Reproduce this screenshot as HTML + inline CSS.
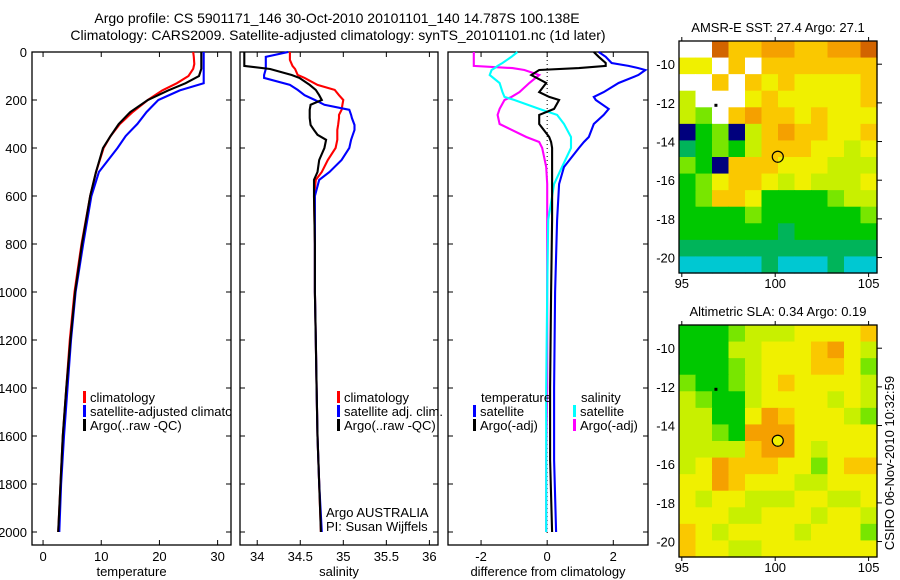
<!DOCTYPE html>
<html><head><meta charset="utf-8"><style>
body{margin:0;background:#fff;}
svg{display:block;font-family:"Liberation Sans",sans-serif;}
</style></head><body>
<svg id="fig" width="900" height="580" viewBox="0 0 900 580">
<defs><clipPath id="clip1"><rect x="32" y="52" width="199" height="493"/></clipPath></defs>
<text x="337" y="23" font-size="14" text-anchor="middle">Argo profile: CS 5901171_146 30-Oct-2010 20101101_140 14.787S 100.138E</text>
<text x="338" y="40" font-size="14" text-anchor="middle">Climatology: CARS2009. Satellite-adjusted climatology: synTS_20101101.nc (1d later)</text>
<g id="g1"></g>
<g id="g2"></g>
<g id="g3"></g>
<g id="m1"></g>
<g id="m2"></g>
<text transform="translate(894,463) rotate(-90)" font-size="13" text-anchor="middle">CSIRO 06-Nov-2010 10:32:59</text>
</svg>
<script>
// ---- data ----
const tDepth=[0,20,50,70,100,130,160,200,250,300,350,400,500,600,800,1000,1200,1400,1600,1800,2000];
const tClim=[25.8,25.9,26.0,25.8,25.0,23.0,20.5,18.0,15.4,13.2,11.6,10.4,9.1,8.1,6.6,5.4,4.6,4.0,3.4,3.0,2.6];
const tArgo=[27.2,27.2,27.2,27.2,26.8,24.5,21.5,18.0,15.0,13.0,11.6,10.3,9.1,8.1,6.7,5.5,4.7,4.0,3.4,3.0,2.6];
const tSat=[27.6,27.6,27.6,27.6,27.6,27.6,23.5,19.8,17.8,16.2,14.2,12.8,9.6,8.3,6.9,5.6,4.8,4.2,3.6,3.1,2.8];
const sDepth=[0,20,33,58,71,96,108,137,158,180,200,220,241,262,275,304,325,345,366,400,450,500,533,600,800,1000,1200,1400,1600,1800,2000];
const sClim=[34.38,34.38,34.38,34.41,34.44,34.47,34.55,34.70,34.90,34.95,35.0,34.99,34.98,34.95,34.95,34.94,34.93,34.93,34.93,34.91,34.82,34.75,34.68,34.66,34.67,34.67,34.68,34.69,34.70,34.72,34.74];
const sArgo=[33.85,33.85,33.85,33.85,34.15,34.40,34.49,34.61,34.68,34.72,34.75,34.62,34.61,34.61,34.61,34.62,34.66,34.70,34.80,34.78,34.72,34.70,34.66,34.66,34.67,34.67,34.68,34.69,34.70,34.72,34.74];
const sSat=[34.36,34.10,34.10,34.10,34.10,34.08,34.08,34.38,34.47,34.55,34.67,34.78,35.07,35.09,35.10,35.13,35.13,35.11,35.09,35.07,34.98,34.84,34.72,34.67,34.67,34.67,34.68,34.69,34.70,34.72,34.75];
const dDepth=[0,20,46,58,67,75,96,129,167,187,200,237,262,300,354,375,400,479,550,700,1000,1400,1700,2000];
const dTempSat=[1.56,1.77,1.95,2.46,2.76,2.97,2.76,2.16,1.71,1.41,1.47,1.86,1.71,1.41,1.26,1.11,0.96,0.51,0.36,0.30,0.24,0.21,0.21,0.27];
const dTempArgo=[1.41,1.56,1.77,1.77,0.96,-0.24,-0.48,-0.03,-0.24,0.06,0.36,0.21,-0.24,-0.24,0.06,0.12,0.15,0.15,0.15,0.15,0.12,0.09,0.09,0.15];
const dSalSat=[-0.9,-1.08,-1.35,-1.5,-1.59,-1.68,-1.74,-1.44,-1.35,-1.29,-0.99,-0.24,0.30,0.51,0.72,0.72,0.72,0.45,0.21,0.03,0.0,-0.03,-0.03,-0.03];
const dSalArgo=[-2.22,-2.22,-2.22,-2.22,-1.05,-0.69,-0.24,-0.54,-0.84,-1.08,-1.29,-1.44,-1.50,-1.44,-0.63,-0.24,-0.15,-0.03,0,0,0,0,-0.03,-0.03];
const depthTicks=[0,200,400,600,800,1000,1200,1400,1600,1800,2000];
const tTicks=[0,10,20,30];
const sTicks=[34,34.5,35,35.5,36];
const dTicks=[-2,0,2];
const latTicks=[-10,-12,-14,-16,-18,-20];
const lonTicks=[95,100,105];
const sstGrid=[
"ww9778877889",
"66w7w7777777",
"ww7w76766667",
"5www67666667",
"54w787767666",
"n34n57877667",
"234357776656",
"43n777666555",
"346776565556",
"347763333455",
"333343333334",
"333333233333",
"222222222222",
"111112111211"];
const slaGrid=[
"333455566667",
"333556667865",
"333456667764",
"433456766665",
"543356666565",
"553368766654",
"554388866666",
"555578865666",
"568777664677",
"668766655666",
"656655566556",
"666556665665",
"765666656664",
"766556666666"];
const floatLon=100.138, floatLat=-14.787;

// ---- helpers ----
const NS="http://www.w3.org/2000/svg";
function mk(parent,tag,attrs){const e=document.createElementNS(NS,tag);for(const k in attrs)e.setAttribute(k,attrs[k]);parent.appendChild(e);return e;}
const Y0=52,YS=0.24;
const yD=d=>Y0+d*YS;
function panel(g,x0,x1,vmin,vmax,ticks,label,showY){
  const sx=v=>x0+(v-vmin)/(vmax-vmin)*(x1-x0);
  const box=mk(g,'rect',{x:x0,y:Y0,width:x1-x0,height:545-Y0,fill:'none',stroke:'#000','stroke-width':1.3});
  
  depthTicks.forEach(d=>{
    mk(g,'line',{x1:x0,x2:x0+5,y1:yD(d),y2:yD(d),stroke:'#000'});
    mk(g,'line',{x1:x1-5,x2:x1,y1:yD(d),y2:yD(d),stroke:'#000'});
    if(showY){const t=mk(g,'text',{x:x0-5,y:yD(d)+5,'font-size':13,'text-anchor':'end'});t.textContent=d;
      }
  });
  ticks.forEach(v=>{
    mk(g,'line',{x1:sx(v),x2:sx(v),y1:Y0,y2:Y0+5,stroke:'#000'});
    mk(g,'line',{x1:sx(v),x2:sx(v),y1:540,y2:545,stroke:'#000'});
    const t=mk(g,'text',{x:sx(v),y:561,'font-size':13,'text-anchor':'middle'});t.textContent=v;
    
  });
  const t=mk(g,'text',{x:(x0+x1)/2,y:576,'font-size':13,'text-anchor':'middle'});t.textContent=label;
  
  return sx;
}
function line(g,sx,depths,vals,color,name,w){
  const p=mk(g,'polyline',{points:depths.map((d,i)=>sx(vals[i]).toFixed(1)+','+yD(d).toFixed(1)).join(' '),fill:'none',stroke:color,'stroke-width':w||2.1});
  
}
function legend(g,x,y,color,text){
  mk(g,'rect',{x:x,y:y-11,width:3,height:12,fill:color});
  const t=mk(g,'text',{x:x+7,y:y,'font-size':13});t.textContent=text;
  
  return t;
}
// ---- panel 1 ----
const g1=document.getElementById('g1');
const sx1=panel(g1,32,231,-1.9,32.3,tTicks,'temperature',true);
line(g1,sx1,tDepth,tClim,'#f00','temp-climatology-line');
line(g1,sx1,tDepth,tSat,'#00f','temp-satellite-line');
line(g1,sx1,tDepth,tArgo,'#000','temp-argo-line');
legend(g1,83,402,'#f00','climatology');
legend(g1,83,416,'#00f','satellite-adjusted climatology').setAttribute('clip-path','url(#clip1)');
legend(g1,83,430,'#000','Argo(..raw -QC)');
// ---- panel 2 ----
const g2=document.getElementById('g2');
const sx2=panel(g2,240,438,33.8,36.1,sTicks,'salinity',false);
line(g2,sx2,sDepth,sClim,'#f00','sal-climatology-line');
line(g2,sx2,sDepth,sSat,'#00f','sal-satellite-line');
line(g2,sx2,sDepth,sArgo,'#000','sal-argo-line');
legend(g2,337,402,'#f00','climatology');
legend(g2,337,416,'#00f','satellite adj. clim.');
legend(g2,337,430,'#000','Argo(..raw -QC)');
let tt=mk(g2,'text',{x:326,y:517,'font-size':13});tt.textContent='Argo AUSTRALIA';

tt=mk(g2,'text',{x:326,y:531,'font-size':13});tt.textContent='PI: Susan Wijffels';

// ---- panel 3 ----
const g3=document.getElementById('g3');
const sx3=panel(g3,448,648,-3.0,3.05,dTicks,'difference from climatology',false);
mk(g3,'line',{x1:sx3(0),x2:sx3(0),y1:Y0,y2:535,stroke:'#000','stroke-dasharray':'1,3'});
line(g3,sx3,dDepth,dSalArgo,'#f0f','diff-sal-argo-line');
line(g3,sx3,dDepth,dSalSat,'#0ff','diff-sal-satellite-line');
line(g3,sx3,dDepth,dTempArgo,'#000','diff-temp-argo-line');
line(g3,sx3,dDepth,dTempSat,'#00f','diff-temp-satellite-line');
tt=mk(g3,'text',{x:481,y:402,'font-size':13});tt.textContent='temperature';

tt=mk(g3,'text',{x:581,y:402,'font-size':13});tt.textContent='salinity';

legend(g3,473,416,'#00f','satellite');
legend(g3,473,430,'#000','Argo(-adj)');
legend(g3,573,416,'#0ff','satellite');
legend(g3,573,430,'#f0f','Argo(-adj)');
// ---- maps ----
const cmap=['#1e9bff','#00c8d2','#00b45a','#00c800','#78e600','#c8f000','#f0f000','#fac800','#f5a000','#d26400'];
function map(id,top,grid,title,fillCircle){
  const g=document.getElementById(id);
  const x0=679,x1=877,y1=top+232,lonMin=94.85,lonMax=105.45,latMax=-8.8,latMin=-20.8;
  const sx=v=>x0+(v-lonMin)/(lonMax-lonMin)*(x1-x0);
  const sy=v=>top+(latMax-v)/(latMax-latMin)*(y1-top);
  const rows=grid.length,cols=grid[0].length,cw=(x1-x0)/cols,ch=(y1-top)/rows;
  grid.forEach((row,r)=>{[...row].forEach((c,k)=>{
    const col=c==='w'?'#fff':c==='n'?'#00007d':cmap[+c];
    const cell=mk(g,'rect',{x:(x0+k*cw).toFixed(2),y:(top+r*ch).toFixed(2),width:(cw+0.6).toFixed(2),height:(ch+0.6).toFixed(2),fill:col});
    
  });});
  const b=mk(g,'rect',{x:x0,y:top,width:x1-x0,height:y1-top,fill:'none',stroke:'#000','stroke-width':1.3});
  
  latTicks.forEach(v=>{
    mk(g,'line',{x1:x1,x2:x1+5,y1:sy(v),y2:sy(v),stroke:'#000'});
    const t=mk(g,'text',{x:x0-4,y:sy(v)+5,'font-size':13,'text-anchor':'end'});t.textContent=v;
    
  });
  lonTicks.forEach(v=>{
    mk(g,'line',{x1:sx(v),x2:sx(v),y1:top-4,y2:top,stroke:'#000'});
    mk(g,'line',{x1:sx(v),x2:sx(v),y1:y1,y2:y1+4,stroke:'#000'});
    const t=mk(g,'text',{x:sx(v),y:y1+15,'font-size':13,'text-anchor':'middle'});t.textContent=v;
    
  });
  const t=mk(g,'text',{x:(x0+x1)/2,y:top-9,'font-size':13,'text-anchor':'middle'});t.textContent=title;
  
  const dot=mk(g,'rect',{x:sx(96.8)-1,y:sy(-12.1)-1,width:3,height:3,fill:'#000'});
  
  
  const c=mk(g,'circle',{cx:sx(floatLon),cy:sy(floatLat),r:5.5,fill:fillCircle?'#f0f000':'none',stroke:'#000','stroke-width':1.2});
  
}
map('m1',41,sstGrid,'AMSR-E SST: 27.4 Argo: 27.1',false);
map('m2',325,slaGrid,'Altimetric SLA: 0.34 Argo: 0.19',true);
</script>
</body></html>
